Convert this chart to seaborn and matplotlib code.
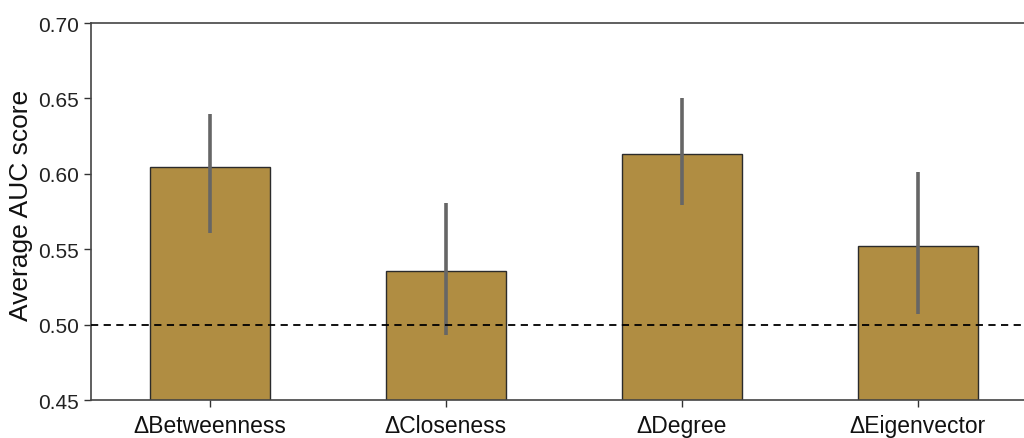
import matplotlib
matplotlib.use("Agg")
import matplotlib.pyplot as plt
import seaborn as sns
import pandas as pd

categories = ["ΔBetweenness", "ΔCloseness", "ΔDegree", "ΔEigenvector"]
mean_auc = [0.6045, 0.5355, 0.6131, 0.5521]
ci_low = [0.5607, 0.4931, 0.5793, 0.5070]
ci_high = [0.6397, 0.5806, 0.6503, 0.6012]
yticks = [0.45, 0.50, 0.55, 0.60, 0.65, 0.70]

sns.set_theme(style="ticks")
plt.rcParams['font.family'] = ['Liberation Sans', 'DejaVu Sans']

df = pd.DataFrame({"feature": categories, "auc": mean_auc})

fig = plt.figure(figsize=(10.24, 4.39), dpi=100)
ax = fig.add_axes([91/1024, 1-401/439, 1-91/1024, (401-24)/439])

sns.barplot(data=df, x="feature", y="auc", ax=ax, color="#B08D42",
            saturation=1, width=0.51, edgecolor="#2b2b2b", linewidth=1.0,
            errorbar=None)
ax.vlines(categories, ci_low, ci_high, color="#666666", linewidth=2.6, zorder=3)
ax.axhline(0.5, color="black", linestyle=(0, (4, 3)), linewidth=1.3, zorder=4)

ax.set_ylim(0.45, 0.70)
ax.set_xlim(-0.504, 3.45)
ax.set_yticks(yticks)
ax.set_yticklabels([f"{v:.2f}" for v in yticks])
ax.set_xlabel("")
ax.set_ylabel("Average AUC score", fontsize=19, color="#111111", labelpad=-1)
ax.yaxis.set_label_coords(-0.062, 0.52)
ax.tick_params(axis="y", labelsize=15, colors="#333333", labelcolor="#222222",
               length=5, width=1)
ax.tick_params(axis="x", labelsize=16.5, colors="#333333", labelcolor="#111111",
               length=5, width=1, pad=5)
for s in ["left", "bottom", "top"]:
    ax.spines[s].set_color("#444444")
    ax.spines[s].set_linewidth(1.2)
ax.spines["right"].set_visible(False)

fig.savefig("out.png", dpi=100)
